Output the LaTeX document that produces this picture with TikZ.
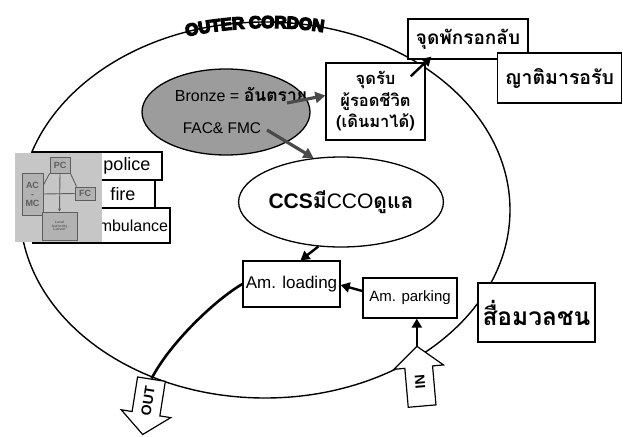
\documentclass[tikz,border=0pt]{standalone}
\usepackage{fontspec}
\setmainfont{Liberation Sans}
\newfontfamily\thaifont[Script=Thai]{Loma}
\newfontfamily\heavyfont[FakeBold=8]{Liberation Sans Bold}
\usetikzlibrary{arrows.meta,shapes.arrows,shapes.geometric,calc,decorations.text}
\definecolor{bronzefill}{HTML}{9C9C9C}
\definecolor{linkgray}{HTML}{4A4A4A}
\definecolor{panelfill}{HTML}{C6C6C6}
\definecolor{panelbox}{HTML}{B2B2B2}
\definecolor{panelline}{HTML}{5E5E5E}
\newcommand\fsz[1]{\fontsize{#1}{#1}\selectfont}
\newcommand\cordonfont{\heavyfont\fsz{17}}

\begin{document}
\begin{tikzpicture}[x=1pt,y=-1pt,
  box/.style={draw, line width=1.3pt, fill=white, inner sep=0pt},
  heavyarrow/.style={line width=2.4pt, -{Triangle[length=9pt,width=10pt]}},
  grayarrow/.style={draw=linkgray, line width=3.2pt, -{Triangle[length=10pt,width=11pt]}},
  blockarrow/.style={single arrow, draw, line width=1.2pt, fill=white,
    inner xsep=3pt, inner ysep=8.5pt, single arrow head extend=11pt,
    single arrow tip angle=100, font=\bfseries\fsz{14}},
  pbox/.style={draw=panelline, fill=panelbox, line width=0.9pt, inner sep=0pt,
    text=panelline, font=\bfseries\fsz{9}, align=center},
  pline/.style={draw=panelline, line width=0.9pt},
  thaibold/.style={font=\thaifont\bfseries\fsz{#1}}
]
\useasboundingbox (0,0) rectangle (623,436);
\fill[white] (0,0) rectangle (623,436);

% the outer cordon
\draw[line width=1.4pt] (265,210) ellipse [x radius=245, y radius=188];
\path[decorate, decoration={text along path, text align=center, raise=-6pt,
  text={|\cordonfont|OUTER CORDON}}]
  (140,46) .. controls (200,16) and (320,14) .. (370,40);

% gathering points outside the cordon
\node[box, minimum width=120pt, minimum height=40pt, thaibold=19] (pickup) at (468,39) {จุดพักรอกลับ};
\node[box, minimum width=124pt, minimum height=50pt, thaibold=19.5] (relatives) at (559.5,78) {ญาติมารอรับ};
\node[box, minimum width=117pt, minimum height=59pt, thaibold=24.5] (media) at (536.5,312.5) {สื่อมวลชน};

% survivors reception
\node[box, minimum width=99pt, minimum height=77pt, align=center,
  font=\thaifont\bfseries\fontsize{16.5}{21.5}\selectfont] (surv) at (375.5,101.5)
  {จุดรับ\\ผู้รอดชีวิต\\(เดินมาได้)};

% bronze area
\node[draw, ellipse, line width=1.3pt, fill=bronzefill, minimum width=168pt, minimum height=86pt] (bronze) at (226,112) {};
\node[font=\fsz{16}] (bronzetxt) at (241,95) {Bronze = {\thaifont\bfseries\fsz{17.5}อันตราย}};
\node[font=\fsz{15.5}] (factxt) at (222,128) {FAC\& FMC};

% casualty clearing station
\node[draw, ellipse, line width=1.3pt, fill=white, minimum width=154pt, minimum height=90pt, inner sep=0pt,
  font=\fsz{21}] (ccs) at (341,202) {{\bfseries CCS}{\thaifont\bfseries มี}CCO{\thaifont\bfseries ดูแล}};

% ambulance points
\node[box, minimum width=97pt, minimum height=46pt, font=\fsz{17}] (loading) at (291.5,284) {Am. loading};
\node[box, minimum width=94pt, minimum height=40pt, font=\fsz{15}] (parking) at (410,298) {Am. parking};

% entry and exit
\node[blockarrow, minimum height=60pt, rotate=95] (in) at (420,382) {IN};
\node[blockarrow, minimum height=56pt, shape border rotate=180, rotate=81] (out) at (148,401) {OUT};

% services list
\node[box, minimum width=129pt, minimum height=28pt] (police) at (97.5,166) {};
\node[box, minimum width=122pt, minimum height=28pt] (fire) at (94,194) {};
\node[box, minimum width=137pt, minimum height=35pt] (amb) at (101.5,225.5) {};
\node[font=\fsz{18}] (policetxt) at (127,166) {police};
\node[font=\fsz{18}] (firetxt) at (123,194) {fire};
\node[font=\fsz{16}] (ambtxt) at (129,226) {ambulance};

% command structure panel
\fill[panelfill] (15,153) rectangle (102,242);
\node[pbox, minimum width=20pt, minimum height=16pt] (pc) at (60,165) {PC};
\node[pbox, minimum width=21pt, minimum height=42pt] (acmc) at (32.5,194) {AC\\-\\MC};
\node[pbox, minimum width=20pt, minimum height=13pt] (fc) at (85,193.5) {FC};
\node[pbox, minimum width=35pt, minimum height=28pt, font=\bfseries\fsz{3.5}] (la) at (59.5,226) {Local\\Authority\\Liaison};
\draw[pline] (pc.south west) -- ($(acmc.east)+(0,-9)$);
\draw[pline] (pc.south east) -- ($(fc.north west)+(2,0)$);
\draw[pline] (acmc.east) -- (fc.west);
\draw[pline, -{Triangle[length=3pt,width=3pt]}] (pc.south) -- (la.north);

% connectors
\draw[grayarrow] ($(bronze.center)+(61,-9)$) -- ($(surv.west)+(0,-6)$);
\draw[grayarrow] ($(bronze.center)+(41,18)$) -- (ccs.122);
\draw[heavyarrow] ($(surv.north east)+(-15,14)$) -- ($(pickup.south west)+(24,-3)$);
\draw[heavyarrow] (ccs.243) -- ($(loading.north)+(9,0)$);
\draw[heavyarrow] ($(parking.west)+(0,-7)$) -- ($(loading.east)+(0,1)$);
\draw[heavyarrow] (in.tip) -- (in.tip |- parking.south);
\draw[line width=2.6pt] (loading.west) .. controls (215,300) and (170,343) .. (out.tail);
\end{tikzpicture}
\end{document}
